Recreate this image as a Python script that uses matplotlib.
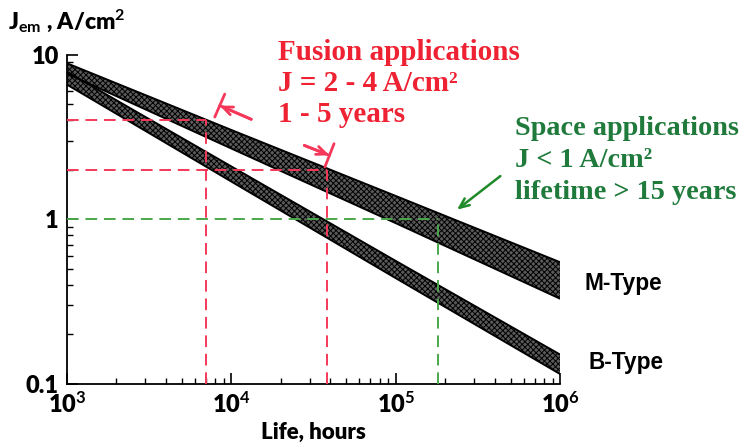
import matplotlib
matplotlib.use("Agg")
import matplotlib.pyplot as plt
import numpy as np

plt.rcParams['mathtext.fontset'] = 'custom'
plt.rcParams['mathtext.rm'] = 'Lato:bold'
plt.rcParams['mathtext.bf'] = 'Lato:bold'
plt.rcParams['mathtext.it'] = 'Lato:bold'
plt.rcParams['hatch.linewidth'] = 0.7

# ---- data ----
life_hours = [1e3, 1e4, 1e5, 1e6]
m_upper = [8.9, 3.5, 1.39, 0.55]
m_lower = [7.7, 2.7, 0.95, 0.33]
b_upper = [7.9, 2.1, 0.56, 0.151]
b_lower = [6.6, 1.7, 0.44, 0.115]

fusion_J = [4, 2]
fusion_life = [7e3, 3.8e4]
space_J = [1]
space_life = [1.8e5]

xticks = [1e3, 1e4, 1e5, 1e6]
xticklabels = ['10$^{3}$', '10$^{4}$', '10$^{5}$', '10$^{6}$']
yticks = [0.1, 1, 10]
yticklabels = ['0.1', '1', '10']

red_line = '#f5385a'
red_text = '#ee2233'
green_line = '#4aa84a'
green_text = '#1f7a3c'

fig = plt.figure(figsize=(7.48, 4.48), dpi=100)
ax = fig.add_axes([0.0896, 0.1429, 0.6591, 0.7344])
ax.set_xscale('log')
ax.set_yscale('log')
ax.set_xlim(1e3, 1e6)
ax.set_ylim(0.1, 10)

for lo, hi in [(m_lower, m_upper), (b_lower, b_upper)]:
    ax.fill_between(life_hours, lo, hi, facecolor='#5a5a5a', edgecolor='black',
                    hatch='xxxxxx', linewidth=0, zorder=2)
    ax.plot(life_hours, hi, color='black', lw=1.4, zorder=3)
    ax.plot(life_hours, lo, color='black', lw=1.4, zorder=3)

dash = (0, (6, 3.5))
for J, L in zip(fusion_J, fusion_life):
    ax.plot([1e3, L], [J, J], color=red_line, lw=1.4, ls=dash, zorder=4)
    ax.plot([L, L], [0.1, J], color=red_line, lw=1.4, ls=dash, zorder=4)
for J, L in zip(space_J, space_life):
    ax.plot([1e3, L], [J, J], color=green_line, lw=1.4, ls=dash, zorder=4)
    ax.plot([L, L], [0.1, J], color=green_line, lw=1.4, ls=dash, zorder=4)

# arrows
arrows_red = [((1.37e4, 4.0), (8.2e3, 5.0)), ((2.68e4, 2.86), (4.1e4, 2.42))]
for tail, head in arrows_red:
    ax.annotate('', xy=head, xytext=tail,
                arrowprops=dict(arrowstyle='->,head_length=0.7,head_width=0.3',
                                color=red_line, lw=2))
    ax.annotate('', xy=head, xytext=tail,
                arrowprops=dict(arrowstyle='-[,widthB=0.9,lengthB=0',
                                color=red_line, lw=2))
ax.annotate('', xy=(2.29e5, 1.12), xytext=(4.47e5, 1.88),
            arrowprops=dict(arrowstyle='->,head_length=0.7,head_width=0.3',
                            color='#1f8a2a', lw=1.8))

ax.spines['top'].set_visible(False)
ax.spines['right'].set_visible(False)
for s in ['left', 'bottom']:
    ax.spines[s].set_linewidth(1.3)

ax.set_xticks(xticks, labels=xticklabels)
ax.set_yticks(yticks, labels=yticklabels)
ax.tick_params(which='major', direction='in', length=8, width=1.2, labelsize=17, pad=5)
ax.tick_params(which='minor', direction='in', length=4, width=1.0)
ax.tick_params(axis='y', which='major', pad=6)
for lab in ax.get_xticklabels() + ax.get_yticklabels():
    lab.set_fontfamily('Lato')
    lab.set_fontweight('heavy')

ax.set_xlabel('Life, hours', fontfamily='Lato', fontweight='heavy', fontsize=16)
ax.xaxis.set_label_coords(0.5, -0.115)

fig.text(0.011, 0.935, r'J$_{\mathrm{em}}$ , A/cm$^{2}$', fontfamily='Lato', fontweight='heavy',
         fontsize=16.5, ha='left', va='baseline')

serif = 'Liberation Serif'
for i, t in enumerate(['Fusion applications', 'J = 2 - 4 A/cm²', '1 - 5 years']):
    fig.text(278 / 748, 1 - (60 + 31 * i) / 448, t, fontfamily=serif, fontweight='bold',
             fontsize=21, color=red_text, ha='left', va='baseline')
for i, t in enumerate(['Space applications', 'J < 1 A/cm²', 'lifetime > 15 years']):
    fig.text(515 / 748, 1 - (135 + 32 * i) / 448, t, fontfamily=serif, fontweight='bold',
             fontsize=20.3, color=green_text, ha='left', va='baseline')

fig.text(585 / 748, 1 - 283 / 448, 'M-Type', fontfamily='Liberation Sans', fontweight='bold',
         fontsize=16.3, ha='left', va='center')
fig.text(588 / 748, 1 - 362 / 448, 'B-Type', fontfamily='Liberation Sans', fontweight='bold',
         fontsize=16.3, ha='left', va='center')

fig.savefig('out.png', dpi=100)
